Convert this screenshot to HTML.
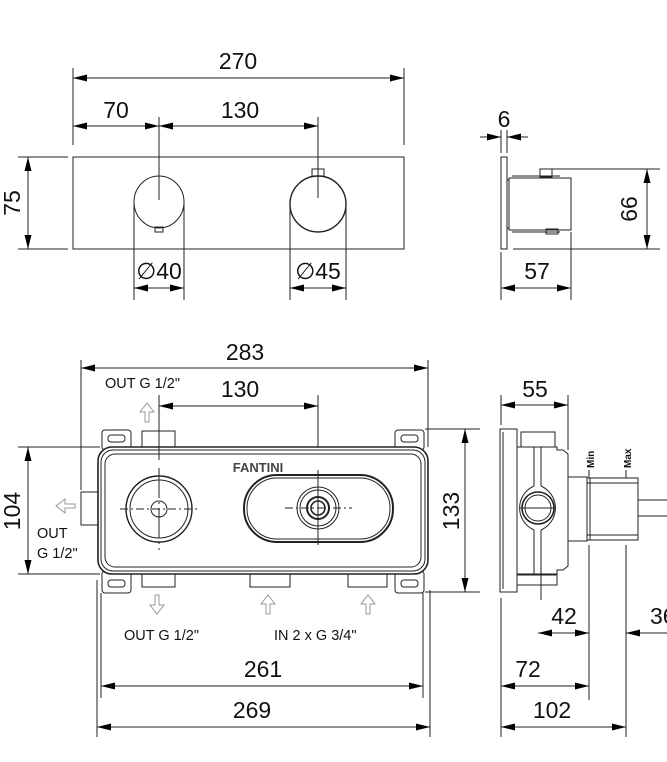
<!DOCTYPE html>
<html><head><meta charset="utf-8"><style>
html,body{margin:0;padding:0;background:#fff;}
svg{display:block;}
text{font-family:"Liberation Sans",Arial,sans-serif;fill:#111;}
.n{font-size:23px;}
.s{font-size:14.5px;}
</style></head><body>
<svg width="667" height="762" viewBox="0 0 667 762" xmlns="http://www.w3.org/2000/svg">
<defs>
<marker id="a" viewBox="0 0 14 7" refX="14" refY="3.5" markerWidth="14" markerHeight="7" orient="auto-start-reverse" markerUnits="userSpaceOnUse"><path d="M0,0 L14,3.5 L0,7 z" fill="#000"/></marker>
</defs>
<g stroke="#222" stroke-width="1" fill="none">
<rect x="73" y="157" width="331" height="92"/>
<line x1="73" y1="68" x2="73" y2="145"/><line x1="404" y1="68" x2="404" y2="145"/>
<line x1="73" y1="78" x2="404" y2="78" marker-start="url(#a)" marker-end="url(#a)"/>
<line x1="73" y1="126" x2="159" y2="126" marker-start="url(#a)" marker-end="url(#a)"/>
<line x1="159" y1="126" x2="318" y2="126" marker-start="url(#a)" marker-end="url(#a)"/>
<line x1="159" y1="117" x2="159" y2="200"/><line x1="318" y1="117" x2="318" y2="198"/>
<line x1="18" y1="157" x2="68" y2="157"/><line x1="18" y1="249" x2="68" y2="249"/>
<line x1="28" y1="157" x2="28" y2="249" marker-start="url(#a)" marker-end="url(#a)"/>
<ellipse cx="159" cy="202" rx="25" ry="26"/>
<rect x="155" y="227" width="8" height="5"/>
<ellipse cx="318" cy="204" rx="28" ry="28" stroke-width="1.4"/>
<rect x="312" y="169" width="12" height="7"/>
<line x1="134" y1="202" x2="134" y2="300"/><line x1="184" y1="202" x2="184" y2="300"/>
<line x1="290" y1="204" x2="290" y2="300"/><line x1="346" y1="204" x2="346" y2="300"/>
<line x1="134" y1="288" x2="184" y2="288" marker-start="url(#a)" marker-end="url(#a)"/>
<line x1="290" y1="288" x2="346" y2="288" marker-start="url(#a)" marker-end="url(#a)"/>
<rect x="501" y="157" width="6" height="92"/>
<rect x="509" y="178" width="62" height="52"/>
<line x1="507" y1="180" x2="509" y2="180"/><line x1="507" y1="228" x2="509" y2="228"/>
<line x1="512" y1="176" x2="560" y2="176"/><line x1="512" y1="232" x2="560" y2="232"/>
<rect x="540" y="169" width="12" height="8"/>
<rect x="546" y="229" width="12" height="5"/>
<line x1="501" y1="130" x2="501" y2="153"/><line x1="507" y1="130" x2="507" y2="153"/>
<line x1="480" y1="137" x2="501" y2="137" marker-end="url(#a)"/>
<line x1="528" y1="137" x2="507" y2="137" marker-end="url(#a)"/>
<line x1="552" y1="169" x2="660" y2="169"/><line x1="513" y1="249" x2="660" y2="249"/>
<line x1="647" y1="169" x2="647" y2="249" marker-start="url(#a)" marker-end="url(#a)"/>
<line x1="501" y1="252" x2="501" y2="300"/><line x1="571" y1="232" x2="571" y2="300"/>
<line x1="501" y1="288" x2="571" y2="288" marker-start="url(#a)" marker-end="url(#a)"/>

<line x1="81" y1="360" x2="81" y2="490"/><line x1="428" y1="360" x2="428" y2="447"/>
<line x1="81" y1="368" x2="428" y2="368" marker-start="url(#a)" marker-end="url(#a)"/>
<line x1="159" y1="395" x2="159" y2="430"/><line x1="318" y1="395" x2="318" y2="470"/>
<line x1="159" y1="406" x2="318" y2="406" marker-start="url(#a)" marker-end="url(#a)"/>
<rect x="102" y="430" width="29" height="20" rx="3"/><rect x="108" y="435" width="17" height="7" rx="3"/>
<rect x="395" y="430" width="29" height="20" rx="3"/><rect x="401" y="435" width="17" height="7" rx="3"/>
<rect x="102" y="571" width="29" height="22" rx="3"/><rect x="108" y="580" width="17" height="7" rx="3"/>
<rect x="395" y="571" width="29" height="22" rx="3"/><rect x="401" y="580" width="17" height="7" rx="3"/>
<rect x="142" y="431" width="33" height="16"/>
<rect x="142" y="574" width="33" height="13"/>
<rect x="250" y="574" width="40" height="13"/>
<rect x="348" y="574" width="39" height="13"/>
<rect x="81" y="492" width="17" height="33"/>
<rect x="98" y="447" width="330" height="127" rx="14" fill="#fff" stroke-width="1.6"/>
<rect x="101" y="450" width="324" height="121" rx="12"/>
<rect x="105" y="454" width="316" height="113" rx="10"/>
<line x1="159" y1="430" x2="159" y2="460"/>
<circle cx="159" cy="509" r="33" stroke-width="1.4"/>
<circle cx="159" cy="509" r="29"/>
<circle cx="159" cy="509" r="8"/>
<line x1="120" y1="509" x2="198" y2="509" stroke-dasharray="8,3,2,3"/>
<line x1="159" y1="468" x2="159" y2="550" stroke-dasharray="30,4,2,4"/>
<rect x="244" y="475" width="149" height="67" rx="33" stroke-width="2"/>
<rect x="247" y="478" width="143" height="61" rx="30"/>
<circle cx="318" cy="508" r="21"/><circle cx="318" cy="508" r="18"/>
<circle cx="318" cy="508" r="11" stroke-width="2"/><circle cx="318" cy="508" r="7" stroke-width="1.6"/>
<line x1="285" y1="508" x2="352" y2="508" stroke-dasharray="8,3,2,3"/>
<line x1="318" y1="470" x2="318" y2="545"/>
<g stroke="#999">
<path d="M145,422 v-10 h-5 l7,-9 l7,9 h-5 v10 z"/>
<path d="M75,504 h-10 v-5 l-9,7 l9,7 v-5 h10 z"/>
<path d="M155,595 v10 h-5 l7,9 l7,-9 h-5 v-10 z"/>
<path d="M266,614 v-10 h-5 l7,-9 l7,9 h-5 v10 z"/>
<path d="M366,614 v-10 h-5 l7,-9 l7,9 h-5 v10 z"/>
</g>
<line x1="18" y1="447" x2="100" y2="447"/><line x1="18" y1="574" x2="100" y2="574"/>
<line x1="28" y1="447" x2="28" y2="574" marker-start="url(#a)" marker-end="url(#a)"/>
<line x1="425" y1="429" x2="480" y2="429"/><line x1="425" y1="592" x2="480" y2="592"/>
<line x1="465" y1="429" x2="465" y2="592" marker-start="url(#a)" marker-end="url(#a)"/>
<line x1="101" y1="593" x2="101" y2="698"/><line x1="423" y1="593" x2="423" y2="698"/>
<line x1="97" y1="580" x2="97" y2="737"/><line x1="430" y1="590" x2="430" y2="737"/>
<line x1="101" y1="686" x2="423" y2="686" marker-start="url(#a)" marker-end="url(#a)"/>
<line x1="97" y1="727" x2="430" y2="727" marker-start="url(#a)" marker-end="url(#a)"/>

<line x1="501" y1="395" x2="501" y2="425"/><line x1="568" y1="395" x2="568" y2="450"/>
<line x1="501" y1="405" x2="568" y2="405" marker-start="url(#a)" marker-end="url(#a)"/>
<rect x="500" y="429" width="17" height="163"/>
<line x1="503" y1="432" x2="503" y2="589"/>
<rect x="521" y="432" width="34" height="15"/>
<rect x="517" y="575" width="40" height="10"/>
<path d="M517,447 h40 v3 h6 l5,4 v112 l-5,4 h-6 v4 h-40"/>
<line x1="534" y1="447" x2="534" y2="486"/><line x1="541" y1="447" x2="541" y2="486"/>
<line x1="534" y1="530" x2="534" y2="575"/><line x1="541" y1="530" x2="541" y2="600"/>
<path d="M534,486 a24,24 0 0 0 0,44 M541,486 a24,24 0 0 1 0,44"/>
<circle cx="538" cy="508" r="16" stroke-width="1.6"/><circle cx="538" cy="508" r="13"/>
<line x1="520" y1="508" x2="556" y2="508"/>
<rect x="568" y="477" width="19" height="64"/>
<rect x="587" y="478" width="51" height="62"/>
<line x1="590" y1="478" x2="590" y2="540"/><line x1="587" y1="483" x2="638" y2="483"/><line x1="587" y1="535" x2="638" y2="535"/>
<line x1="638" y1="500" x2="667" y2="500"/><line x1="638" y1="516" x2="667" y2="516"/>
<line x1="589" y1="470" x2="589" y2="478"/><line x1="626" y1="470" x2="626" y2="478"/>
<line x1="589" y1="545" x2="589" y2="700"/><line x1="626" y1="545" x2="626" y2="737"/>
<line x1="501" y1="598" x2="501" y2="737"/>
<line x1="538" y1="633" x2="589" y2="633" marker-start="url(#a)" marker-end="url(#a)"/>
<line x1="667" y1="633" x2="626" y2="633" marker-end="url(#a)"/>
<line x1="501" y1="686" x2="589" y2="686" marker-start="url(#a)" marker-end="url(#a)"/>
<line x1="501" y1="727" x2="626" y2="727" marker-start="url(#a)" marker-end="url(#a)"/>
</g>
<g stroke="none">
<text class="n" x="238" y="69" text-anchor="middle">270</text>
<text class="n" x="116" y="118" text-anchor="middle">70</text>
<text class="n" x="240" y="118" text-anchor="middle">130</text>
<text class="n" transform="translate(20,203) rotate(-90)" text-anchor="middle">75</text>
<text class="n" x="159" y="279" text-anchor="middle">∅40</text>
<text class="n" x="318" y="279" text-anchor="middle">∅45</text>
<text class="n" x="504" y="127" text-anchor="middle">6</text>
<text class="n" transform="translate(637,209) rotate(-90)" text-anchor="middle">66</text>
<text class="n" x="537" y="279" text-anchor="middle">57</text>
<text class="n" x="245" y="360" text-anchor="middle">283</text>
<text class="n" x="240" y="397" text-anchor="middle">130</text>
<text class="s" x="105" y="388">OUT G 1/2"</text>
<text x="258" y="472" text-anchor="middle" style="font-size:13px;font-weight:bold;fill:#444">FANTINI</text>
<text class="n" transform="translate(20,511) rotate(-90)" text-anchor="middle">104</text>
<text class="s" x="37" y="538">OUT</text>
<text class="s" x="37" y="558">G 1/2"</text>
<text class="n" transform="translate(459,511) rotate(-90)" text-anchor="middle">133</text>
<text class="s" x="124" y="640">OUT G 1/2"</text>
<text class="s" x="274" y="640">IN 2 x G 3/4"</text>
<text class="n" x="263" y="677" text-anchor="middle">261</text>
<text class="n" x="252" y="718" text-anchor="middle">269</text>
<text class="n" x="535" y="397" text-anchor="middle">55</text>
<text transform="translate(594,468) rotate(-90)" style="font-size:10px;font-weight:bold">Min</text>
<text transform="translate(631,468) rotate(-90)" style="font-size:10px;font-weight:bold">Max</text>
<text class="n" x="564" y="624" text-anchor="middle">42</text>
<text class="n" x="650" y="624">36</text>
<text class="n" x="528" y="677" text-anchor="middle">72</text>
<text class="n" x="552" y="718" text-anchor="middle">102</text>
</g>
</svg>
</body></html>
